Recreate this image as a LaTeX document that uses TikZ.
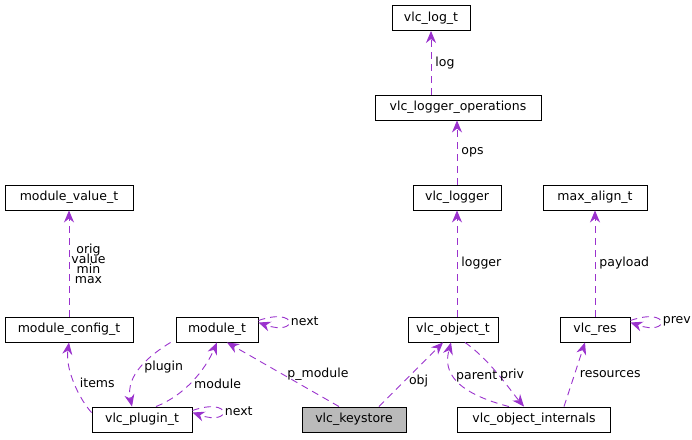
\documentclass[tikz,border=0pt]{standalone}
\usepackage{fontspec}
\setmainfont{DejaVu Sans}
\usetikzlibrary{arrows.meta}
\definecolor{edge}{HTML}{9A32CD}
\begin{document}
\begin{tikzpicture}[x=1pt,y=-1pt,
  box/.style={draw,line width=0.9pt,minimum height=25pt,inner sep=2pt,font=\fontsize{12.5}{14}\selectfont},
  e/.style={draw=edge,line width=0.9pt,dash pattern=on 7pt off 5pt,-{Stealth[length=12pt,width=10pt,fill=edge]}},
  lab/.style={font=\fontsize{12.5}{14}\selectfont,inner sep=1pt}]
\useasboundingbox (0,0) rectangle (692,439);
\node[box,minimum width=78pt] (log) at (431,18) {vlc\_log\_t};
\node[box,minimum width=166pt] (ops) at (458,107.5) {vlc\_logger\_operations};
\node[box,minimum width=88pt] (logger) at (457,197.5) {vlc\_logger};
\node[box,minimum width=128pt] (mv) at (69,197.5) {module\_value\_t};
\node[box,minimum width=104pt] (max) at (595,197.5) {max\_align\_t};
\node[box,minimum width=128pt] (mc) at (69,329.5) {module\_config\_t};
\node[box,minimum width=82pt] (mt) at (217,329.5) {module\_t};
\node[box,minimum width=90pt] (obj) at (453,329.5) {vlc\_object\_t};
\node[box,minimum width=70pt] (res) at (595,329.5) {vlc\_res};
\node[box,minimum width=100pt] (pl) at (142,419.5) {vlc\_plugin\_t};
\node[box,minimum width=104pt,fill=black!27] (ks) at (354,419.5) {vlc\_keystore};
\node[box,minimum width=153pt] (oi) at (534,419.5) {vlc\_object\_internals};

\draw[e] (ops.north -| log) -- node[lab,right=3pt]{log} (log.south);
\draw[e] (logger.north) -- node[lab,right=3pt]{ops} (ops.south -| logger);
\draw[e] (obj.north -| logger) -- node[lab,right=3pt]{logger} (logger.south);
\draw[e] (mc.north) -- node[lab,right=1pt,align=center]{orig\\[-4pt]value\\[-4pt]min\\[-4pt]max} (mv.south);
\draw[e] (res.north) -- node[lab,right=3pt]{payload} (max.south);
\draw[e] (res.east) ++(0,-9) .. controls +(40,-14) and +(40,14) .. ([yshift=7]res.east) node[lab,pos=0.5,right=1pt]{prev};
\draw[e] (mt.east) ++(0,-9) .. controls +(40,-14) and +(40,14) .. ([yshift=7]mt.east) node[lab,pos=0.5,right=1pt]{next};
\draw[e] (pl.east) ++(0,-9) .. controls +(40,-14) and +(40,14) .. ([yshift=7]pl.east) node[lab,pos=0.5,right=1pt]{next};
\draw[e] (pl.west) ++(0,-7) .. controls (80,400) and (65,370) .. (mc.south) node[lab,pos=0.5,right=4pt]{items};
\draw[e] ([xshift=-5]mt.south west) .. controls (150,355) and (125,375) .. ([xshift=-10]pl.north) node[lab,pos=0.5,right=2pt]{plugin};
\draw[e] ([xshift=14]pl.north) .. controls (185,395) and (205,370) .. (mt.south) node[lab,pos=0.45,right=3pt]{module};
\draw[e] (ks.north) ++(-15,0) -- node[lab,pos=0.5,right=3pt]{p\_module} ([xshift=10]mt.south);
\draw[e] ([xshift=25]ks.north) -- node[lab,pos=0.4,right=3pt]{obj} ([xshift=-10]obj.south);
\draw[e] ([xshift=-25]oi.north) .. controls (445,390) and (445,365) .. ([xshift=-2]obj.south) node[lab,pos=0.5,right=1pt]{parent};
\draw[e] ([xshift=12]obj.south) .. controls (490,360) and (510,390) .. ([xshift=-10]oi.north) node[lab,pos=0.5,right=0pt]{priv};
\draw[e] ([xshift=30]oi.north) -- node[lab,pos=0.5,right=4pt]{resources} ([xshift=-10]res.south);
\end{tikzpicture}
\end{document}
